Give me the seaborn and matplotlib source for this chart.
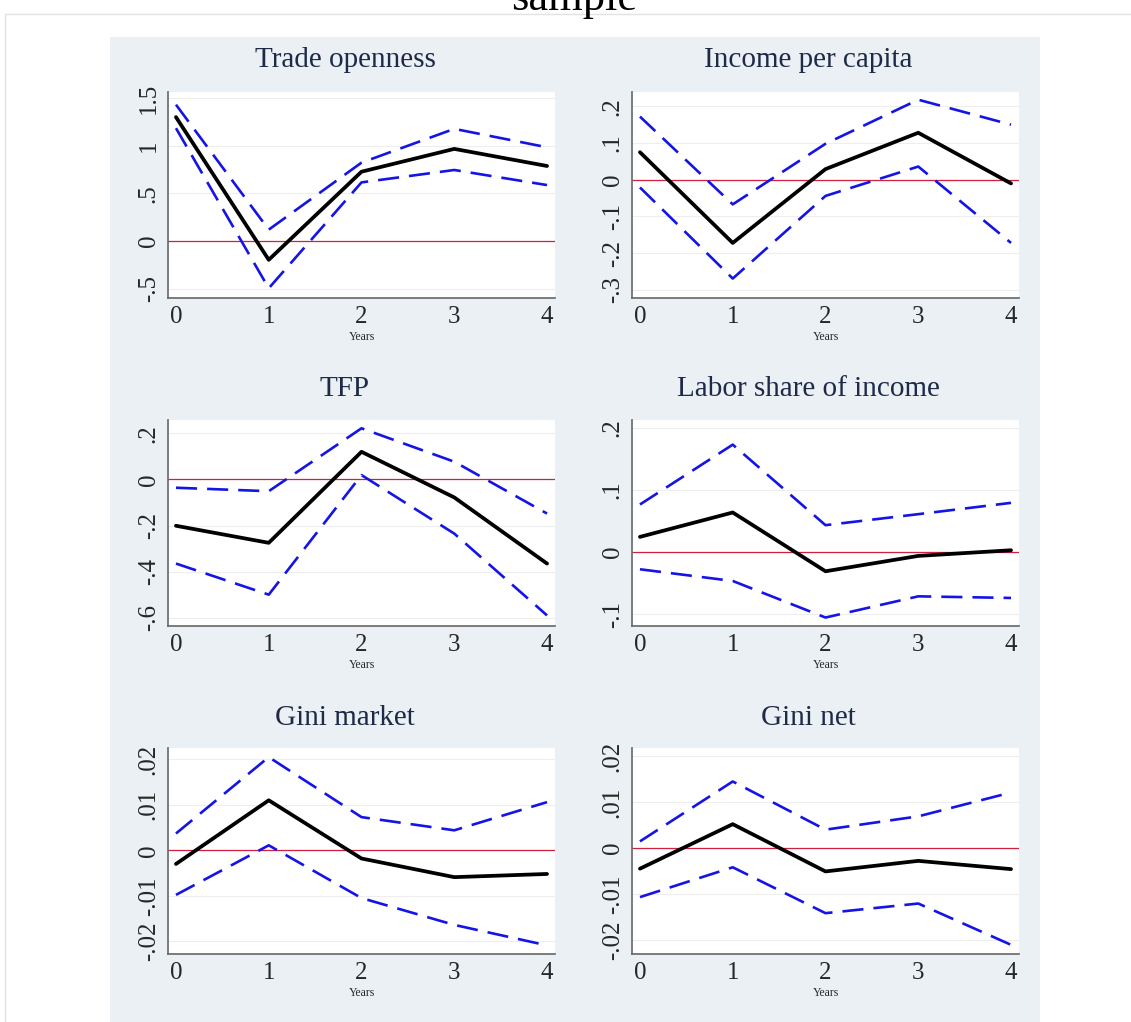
import numpy as np
import pandas as pd
import matplotlib.pyplot as plt
import seaborn as sns
from matplotlib.patches import Rectangle

# --- data: impulse responses with confidence bands, horizon 0-4 years ---
years = [0, 1, 2, 3, 4]

trade_irf = [1.30, -0.195, 0.728, 0.967, 0.788]
trade_up = [1.43, 0.121, 0.823, 1.177, 0.984]
trade_lo = [1.184, -0.493, 0.616, 0.746, 0.588]

income_irf = [0.075, -0.172, 0.029, 0.128, -0.010]
income_up = [0.172, -0.067, 0.098, 0.218, 0.150]
income_lo = [-0.021, -0.269, -0.044, 0.036, -0.172]

tfp_irf = [-0.201, -0.275, 0.120, -0.078, -0.365]
tfp_up = [-0.036, -0.051, 0.222, 0.077, -0.148]
tfp_lo = [-0.365, -0.500, 0.019, -0.235, -0.590]

labor_irf = [0.0247, 0.0639, -0.0306, -0.0059, 0.0032]
labor_up = [0.0768, 0.173, 0.0435, 0.0612, 0.0794]
labor_lo = [-0.0274, -0.0462, -0.105, -0.0709, -0.0735]

gmkt_irf = [-0.0030, 0.0110, -0.0018, -0.0059, -0.0052]
gmkt_up = [0.0037, 0.0205, 0.0073, 0.0044, 0.0106]
gmkt_lo = [-0.0098, 0.0011, -0.0105, -0.0164, -0.0209]

gnet_irf = [-0.0045, 0.0052, -0.0051, -0.0028, -0.0046]
gnet_up = [0.00145, 0.0145, 0.0040, 0.0069, 0.0121]
gnet_lo = [-0.0107, -0.0042, -0.0142, -0.0121, -0.0211]

panels = [
    ("Trade openness", trade_irf, trade_up, trade_lo,
     [-0.5, 0, 0.5, 1, 1.5], ["-.5", "0", ".5", "1", "1.5"], (-0.595, 1.563)),
    ("Income per capita", income_irf, income_up, income_lo,
     [-0.3, -0.2, -0.1, 0, 0.1, 0.2], ["-.3", "-.2", "-.1", "0", ".1", ".2"], (-0.322, 0.239)),
    ("TFP", tfp_irf, tfp_up, tfp_lo,
     [-0.6, -0.4, -0.2, 0, 0.2], ["-.6", "-.4", "-.2", "0", ".2"], (-0.636, 0.258)),
    ("Labor share of income", labor_irf, labor_up, labor_lo,
     [-0.1, 0, 0.1, 0.2], ["-.1", "0", ".1", ".2"], (-0.1186, 0.2126)),
    ("Gini market", gmkt_irf, gmkt_up, gmkt_lo,
     [-0.02, -0.01, 0, 0.01, 0.02], ["-.02", "-.01", "0", ".01", ".02"], (-0.0228, 0.0225)),
    ("Gini net", gnet_irf, gnet_up, gnet_lo,
     [-0.02, -0.01, 0, 0.01, 0.02], ["-.02", "-.01", "0", ".01", ".02"], (-0.0231, 0.0218)),
]

# --- style ---
sns.set_style("white")
plt.rcParams['font.family'] = ['Liberation Serif', 'DejaVu Serif']

W, H = 1131, 1022
fig = plt.figure(figsize=(W / 100, H / 100), dpi=100)

# outer frame and Stata-like graph region (kept behind the axes)
fig.patches.append(Rectangle((5 / W, -0.01), 1.1, 1 - 14 / H + 0.01, transform=fig.transFigure,
                             facecolor='white', edgecolor='#e2e2e2', lw=1, zorder=-2))
fig.patches.append(Rectangle((110 / W, 0), (1040 - 110) / W, 1 - 37 / H, transform=fig.transFigure,
                             facecolor='#eaf0f3', edgecolor='none', zorder=-1))
# title sits mostly above the canvas, as in the original crop
fig.text(574 / W, 1 - 10 / H, "sample", ha='center', va='baseline', fontsize=32, color='black')

# axes boxes in pixels: (left, top); size 387x206
lefts = [168, 632]
tops = [92, 420, 748]
title_x = [345, 808]
title_y = [60, 389, 718]

palette = {'irf': 'black', 'upper': '#1414e6', 'lower': '#1414e6'}
dashes = {'irf': '', 'upper': (8, 3.8), 'lower': (8, 3.8)}
sizes = {'irf': 2.7, 'upper': 1.9, 'lower': 1.9}

for i, (title, irf, up, lo, yt, ytl, ylim) in enumerate(panels):
    r, c = divmod(i, 2)
    left, top = lefts[c], tops[r]
    ax = fig.add_axes([left / W, 1 - (top + 206) / H, 387 / W, 206 / H])
    ax.set_zorder(2)
    ax.set_facecolor('white')

    df = pd.DataFrame({
        'year': years * 3,
        'value': irf + up + lo,
        'series': ['irf'] * 5 + ['upper'] * 5 + ['lower'] * 5,
    })

    for y in yt:
        ax.axhline(y, color='#eeeeee', lw=0.8, zorder=0)
    ax.axhline(0, color='#d02040', lw=0.9, zorder=1)

    sns.lineplot(data=df, x='year', y='value', hue='series', style='series', size='series',
                 palette=palette, dashes=dashes, sizes=sizes, legend=False, ax=ax, zorder=3)

    ax.set_xlim(-0.086, 4.086)
    ax.set_ylim(*ylim)
    ax.set_xticks(years)
    ax.set_xticklabels([str(y) for y in years], fontsize=18)
    ax.set_yticks(yt)
    ax.set_yticklabels(ytl, fontsize=18, rotation=90, va='center')
    ax.set_ylabel('')
    for s in ['top', 'right']:
        ax.spines[s].set_visible(False)
    for s in ['left', 'bottom']:
        ax.spines[s].set_color('#666666')
        ax.spines[s].set_linewidth(1.2)
    ax.tick_params(axis='both', direction='out', length=5, width=0.9, color='#666666', pad=1)
    ax.set_xlabel('')
    # small "Years" label sitting just under the middle tick label
    ax.text(0.5, -0.19, 'Years', transform=ax.transAxes, ha='center', va='center', fontsize=8.5)

    fig.text(title_x[c] / W, 1 - title_y[r] / H, title, ha='center', va='center',
             fontsize=21, color='#1e2a48')

plt.savefig('out.png', dpi=100)
